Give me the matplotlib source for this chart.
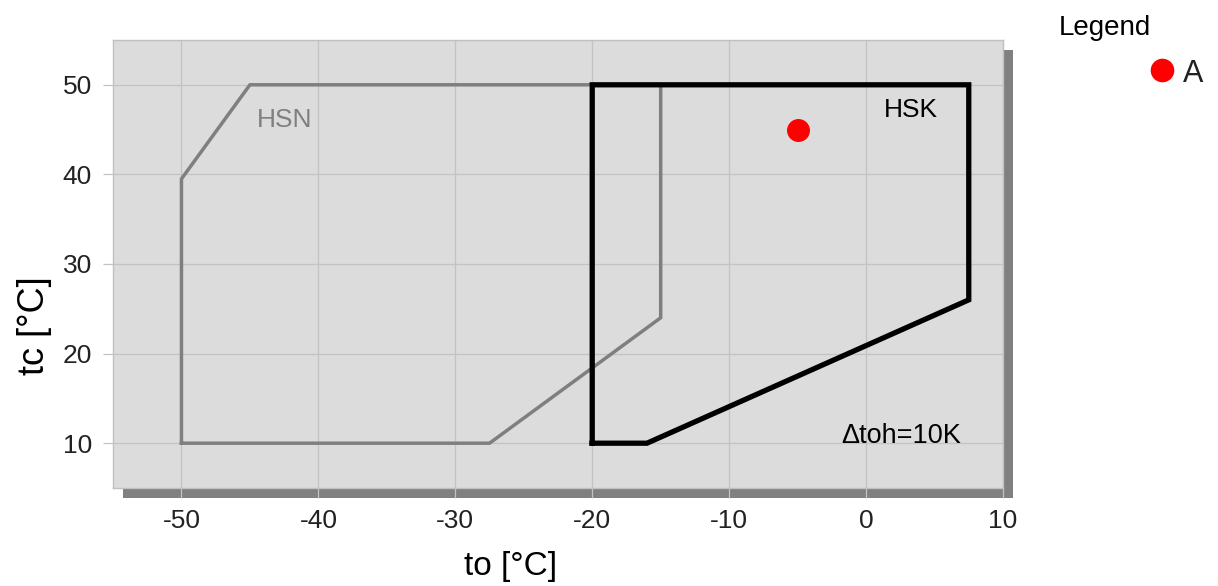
import matplotlib
matplotlib.use('Agg')
import matplotlib.pyplot as plt

plt.rcParams['font.family'] = ['Liberation Sans', 'DejaVu Sans']
plt.rcParams['axes.unicode_minus'] = False

# envelope HSN (grey)
hsn_to = [-50, -50, -45, -15, -15, -27.5, -50]
hsn_tc = [10, 39.5, 50, 50, 24, 10, 10]

# envelope HSK (black)
hsk_to = [-20, -20, 7.5, 7.5, -16, -20]
hsk_tc = [10, 50, 50, 26, 10, 10]

# operating point A
point_to = [-5]
point_tc = [45]

x_ticks = [-50, -40, -30, -20, -10, 0, 10]
y_ticks = [10, 20, 30, 40, 50]

W, H = 1218, 586
fig = plt.figure(figsize=(W / 100, H / 100), dpi=100)

left, bottom, width, height = 113 / W, 1 - 488 / H, 890 / W, 448 / H

# shadow behind the plot area
shadow = fig.add_axes([left + 10 / W, bottom - 10 / H, width, height], zorder=0)
shadow.set_facecolor('#808080')
shadow.set_xticks([])
shadow.set_yticks([])
for s in shadow.spines.values():
    s.set_visible(False)

ax = fig.add_axes([left, bottom, width, height], zorder=1)
ax.set_facecolor('#dcdcdc')
for s in ax.spines.values():
    s.set_color('#c0c0c0')
    s.set_linewidth(1)

ax.set_xlim(-55, 10)
ax.set_ylim(5, 55)
ax.set_xticks(x_ticks)
ax.set_yticks(y_ticks)
ax.grid(True, color='#c3c3c3', linewidth=0.9)
ax.tick_params(axis='both', length=7.2, width=0.9, color='#c3c3c3', labelsize=19,
               pad=8, labelcolor='#222222')

ax.plot(hsn_to, hsn_tc, color='#7f7f7f', linewidth=2.5, solid_joinstyle='miter')
ax.plot(hsk_to, hsk_tc, color='black', linewidth=3.8, solid_joinstyle='miter')
ax.plot(point_to, point_tc, 'o', color='#ff0000', markersize=15.5)

ax.text(-44.5, 46.1, 'HSN', color='#808080', fontsize=19, va='center')
ax.text(1.3, 47.2, 'HSK', color='black', fontsize=19, va='center')
ax.text(-1.8, 10.8, 'Δtoh=10K', color='black', fontsize=19.5, va='center')

# axis titles
fig.text(511 / W, 1 - 567 / H, 'to [°C]', fontsize=24, ha='center', va='center')
fig.text(35 / W, 1 - 326 / H, 'tc [°C]', fontsize=26, ha='center', va='center',
         rotation=90)

# legend
fig.text(1105 / W, 1 - 28 / H, 'Legend', fontsize=20, ha='center', va='center')
fig.lines.append(plt.Line2D([1162 / W], [1 - 70 / H], marker='o', color='#ff0000',
                            markersize=16, transform=fig.transFigure))
fig.text(1183 / W, 1 - 74 / H, 'A', fontsize=22, ha='left', va='center', color='#222222')

fig.savefig('out.png', dpi=100)
